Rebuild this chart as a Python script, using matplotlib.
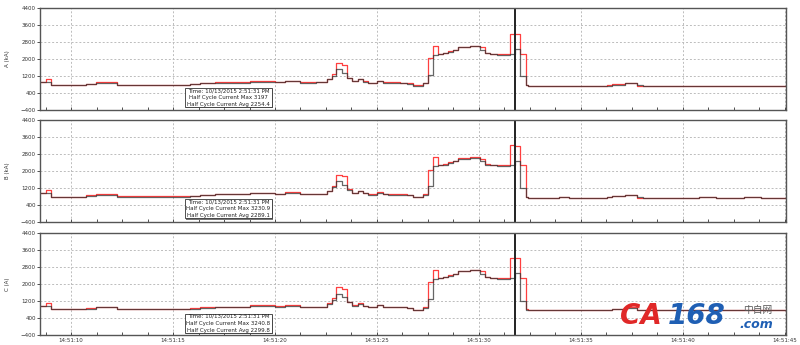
import numpy as np
import matplotlib
matplotlib.use("Agg")
import matplotlib.pyplot as plt
from matplotlib.ticker import MultipleLocator, FixedLocator, FuncFormatter
from matplotlib.patches import FancyBboxPatch

plt.rcParams['font.family'] = ['DejaVu Sans', 'Noto Sans CJK SC']

# step start times, seconds after 14:51:00 (last entry closes the final step)
t_edges = [8.48, 8.78, 9.02, 10.74, 11.23, 12.25, 15.83, 16.32, 17.06, 18.77,
           20.00, 20.50, 21.23, 22.00, 22.53, 22.78, 22.99, 23.27, 23.51, 23.76,
           24.08, 24.33, 24.57, 24.98, 25.31, 25.55, 26.13, 26.45, 26.78, 27.27,
           27.52, 27.76, 28.00, 28.25, 28.50, 28.74, 28.99, 29.56, 30.05, 30.29,
           30.54, 30.87, 31.52, 31.76, 32.01, 32.30, 32.40, 33.90, 34.40, 36.27,
           36.52, 37.16, 37.75, 38.04, 40.80, 41.60, 43.00, 43.80, 45.05]

a_avg = [930, 930, 790, 820, 880, 790, 810, 850, 880, 930,
         900, 950, 890, 900, 1040, 1200, 1510, 1330, 1100, 950,
         1040, 940, 870, 960, 890, 870, 870, 830, 740, 860,
         1250, 2190, 2230, 2270, 2350, 2420, 2550, 2600, 2420, 2270,
         2230, 2210, 2230, 2460, 1180, 770, 740, 740, 740, 750,
         800, 860, 760, 740, 740, 740, 740, 740]
a_max = [930, 1080, 790, 840, 900, 800, 830, 870, 900, 960,
         920, 980, 900, 910, 1060, 1280, 1800, 1720, 1130, 960,
         1060, 950, 880, 980, 900, 910, 880, 850, 760, 880,
         2030, 2630, 2250, 2290, 2370, 2440, 2560, 2620, 2550, 2300,
         2250, 2230, 3197, 3160, 2250, 780, 740, 740, 740, 770,
         820, 880, 740, 740, 740, 740, 740, 740]

b_avg = [950, 950, 800, 830, 890, 800, 820, 870, 900, 950,
         920, 970, 910, 920, 1060, 1230, 1540, 1360, 1120, 970,
         1060, 960, 890, 980, 910, 890, 890, 850, 760, 880,
         1280, 2220, 2260, 2300, 2380, 2450, 2580, 2630, 2450, 2300,
         2260, 2240, 2260, 2490, 1200, 780, 750, 770, 750, 760,
         810, 870, 770, 750, 770, 750, 760, 750]
b_max = [950, 1100, 800, 850, 910, 810, 840, 890, 920, 980,
         940, 1000, 920, 930, 1080, 1310, 1830, 1750, 1150, 980,
         1080, 970, 900, 1000, 920, 930, 900, 870, 780, 900,
         2060, 2660, 2280, 2320, 2400, 2470, 2590, 2650, 2580, 2330,
         2280, 2260, 3231, 3190, 2280, 790, 750, 790, 750, 780,
         830, 890, 750, 750, 780, 750, 770, 750]

c_avg = [960, 960, 810, 840, 900, 810, 830, 880, 910, 960,
         930, 980, 920, 930, 1070, 1240, 1550, 1370, 1130, 980,
         1070, 970, 900, 990, 920, 900, 900, 860, 770, 890,
         1290, 2230, 2270, 2310, 2390, 2460, 2590, 2640, 2460, 2310,
         2270, 2250, 2270, 2500, 1210, 790, 760, 760, 760, 770,
         820, 880, 780, 760, 760, 760, 760, 760]
c_max = [960, 1110, 810, 860, 920, 820, 850, 900, 930, 990,
         950, 1010, 930, 940, 1090, 1320, 1840, 1760, 1160, 990,
         1090, 980, 910, 1010, 930, 940, 910, 880, 790, 910,
         2070, 2670, 2290, 2330, 2410, 2480, 2600, 2660, 2590, 2340,
         2290, 2270, 3241, 3200, 2290, 800, 760, 760, 760, 790,
         840, 900, 760, 760, 760, 760, 760, 760]

y_ticks = [-400, 400, 1200, 2000, 2800, 3600, 4400]
y_labels = ["A (kA)", "B (kA)", "C (A)"]
box_texts = [
    "Time: 10/13/2015 2:51:31 PM\nHalf Cycle Current Max 3197\nHalf Cycle Current Avg 2254.4",
    "Time: 10/13/2015 2:51:31 PM\nHalf Cycle Current Max 3230.9\nHalf Cycle Current Avg 2289.1",
    "Time: 10/13/2015 2:51:31 PM\nHalf Cycle Current Max 3240.8\nHalf Cycle Current Avg 2299.8",
]
cursor_t = 31.76
panels = [(a_avg, a_max), (b_avg, b_max), (c_avg, c_max)]

fig = plt.figure(figsize=(8.0, 3.45), dpi=100)
bottoms = [0.681, 0.3565, 0.029]
box_y = [0.03, 0.035, 0.02]

for i, ((avg, mx), bot) in enumerate(zip(panels, bottoms)):
    ax = fig.add_axes([0.05, bot, 0.9325, 0.2957])
    ax.step(t_edges, mx + [mx[-1]], where='post', color='#ff2a2a', lw=0.9, alpha=0.9)
    ax.step(t_edges, avg + [avg[-1]], where='post', color='#333333', lw=0.9, alpha=0.75)
    ax.axvline(cursor_t, color='#222222', lw=1.4)

    ax.set_xlim(8.48, 45.05)
    ax.set_ylim(-400, 4400)
    ax.yaxis.set_major_locator(FixedLocator(y_ticks))
    ax.xaxis.set_major_locator(MultipleLocator(5))
    ax.xaxis.set_minor_locator(MultipleLocator(1.25))
    ax.grid(True, which='major', color='#bcbcbc', ls=(0, (2, 2)), lw=0.7)
    ax.tick_params(axis='y', labelsize=4, length=2, width=0.6, pad=1, colors='#333333')
    ax.tick_params(axis='x', which='both', direction='in', length=2, width=0.6,
                   labelsize=4, pad=2, colors='#333333')
    if i < 2:
        ax.tick_params(axis='x', labelbottom=False)
    else:
        ax.xaxis.set_major_formatter(FuncFormatter(lambda v, p: "14:51:%02d" % int(round(v))))
    for s in ax.spines.values():
        s.set_color('#555555')
        s.set_linewidth(1.0)
    ax.set_ylabel(y_labels[i], fontsize=4, labelpad=8, color='#333333')

    # cursor readout box
    bx, by, bw, bh = 0.194, box_y[i], 0.117, 0.19
    ax.add_patch(FancyBboxPatch((bx + 0.002, by - 0.012), bw, bh, boxstyle='square,pad=0',
                                transform=ax.transAxes, fc='#777777', ec='none', zorder=5))
    ax.add_patch(FancyBboxPatch((bx, by), bw, bh, boxstyle='square,pad=0',
                                transform=ax.transAxes, fc='white', ec='#333333', lw=0.6, zorder=6))
    ax.text(bx + bw / 2, by + bh / 2, box_texts[i], transform=ax.transAxes, fontsize=4,
            ha='center', va='center', multialignment='center', linespacing=1.45,
            color='#222222', zorder=7)

    if i == 2:
        ax.text(0.777, 0.05, "CA", transform=ax.transAxes, fontsize=20, fontweight='bold',
                fontstyle='italic', color='#e02828', ha='left', va='bottom', zorder=8)
        ax.text(0.842, 0.05, "168", transform=ax.transAxes, fontsize=20, fontweight='bold',
                fontstyle='italic', color='#1f5fb4', ha='left', va='bottom', zorder=8)
        ax.text(0.942, 0.2, "中自网", transform=ax.transAxes, fontsize=7,
                family=['Noto Sans CJK SC', 'DejaVu Sans'], color='#555555',
                ha='left', va='bottom', zorder=8)
        ax.text(0.938, 0.04, ".com", transform=ax.transAxes, fontsize=9, fontweight='bold',
                fontstyle='italic', color='#1f5fb4', ha='left', va='bottom', zorder=8)

fig.savefig("out.png", dpi=100, facecolor='white')
